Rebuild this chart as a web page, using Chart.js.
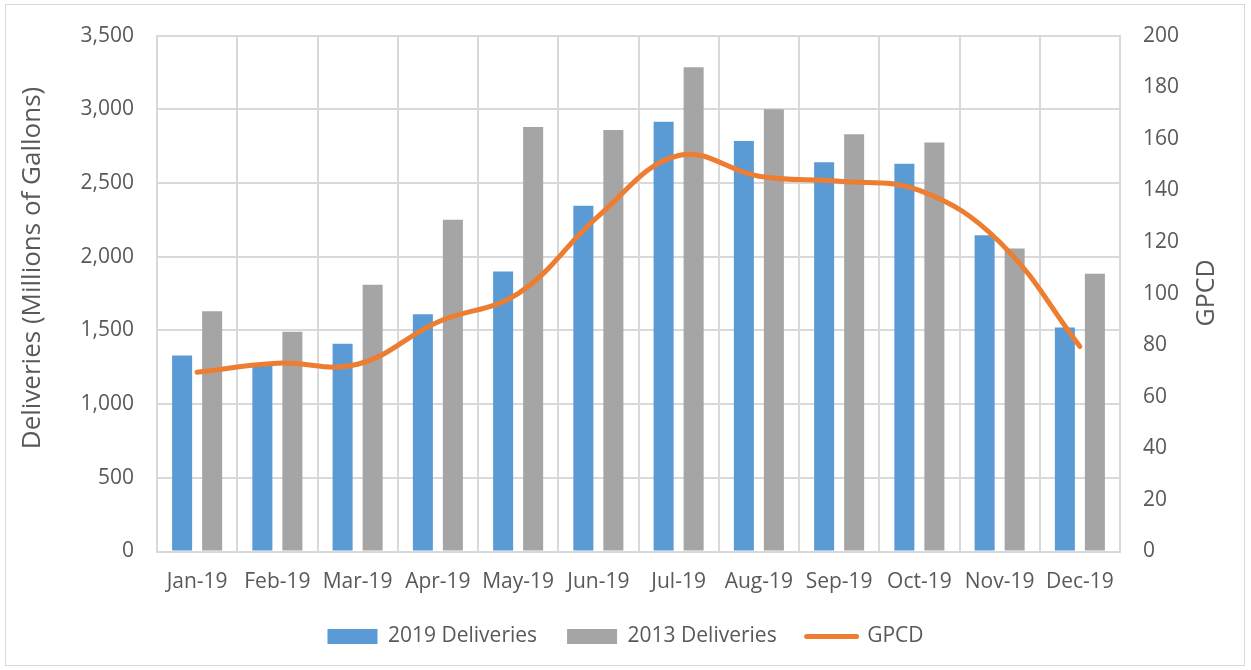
<!DOCTYPE html>
<html>
<head>
<meta charset="utf-8">
<script src="https://cdn.jsdelivr.net/npm/chart.js@4.4.1/dist/chart.umd.min.js"></script>
<style>
  html, body { margin: 0; padding: 0; background: #fff; }
  #wrap { position: relative; width: 1251px; height: 670px; }
  #frame { position: absolute; left: 5px; top: 4px; width: 1238px; height: 660px;
           border: 1px solid #D9D9D9; pointer-events: none; }
</style>
</head>
<body>
<div id="wrap">
  <canvas id="chart" width="1251" height="670"></canvas>
  <div id="frame"></div>
</div>
<script>
const months = ['Jan-19', 'Feb-19', 'Mar-19', 'Apr-19', 'May-19', 'Jun-19',
                'Jul-19', 'Aug-19', 'Sep-19', 'Oct-19', 'Nov-19', 'Dec-19'];
const deliveries2019 = [1330, 1270, 1410, 1610, 1900, 2345, 2915, 2785, 2640, 2630, 2145, 1520];
const deliveries2013 = [1630, 1490, 1810, 2250, 2880, 2860, 3285, 3000, 2830, 2775, 2055, 1885];
const gpcd = [69.5, 73, 72.6, 89, 100, 130, 153.5, 145.5, 143.5, 140, 120, 79.5];

const textColor = '#595959';
const gridColor = '#D9D9D9';
const font = { family: "'Open Sans', 'Noto Sans', sans-serif", size: 21 };

// axis titles drawn by hand so GPCD reads bottom-to-top like the original
const axisTitles = {
    id: 'axisTitles',
    afterDraw(chart) {
        const ctx = chart.ctx;
        ctx.save();
        ctx.fillStyle = textColor;
        ctx.font = "26px 'Open Sans', 'Noto Sans', sans-serif";
        ctx.textAlign = 'center';
        ctx.textBaseline = 'middle';
        ctx.translate(33, 268);
        ctx.rotate(-Math.PI / 2);
        ctx.fillText('Deliveries (Millions of Gallons)', 0, 0);
        ctx.restore();

        ctx.save();
        ctx.fillStyle = textColor;
        ctx.font = "25px 'Open Sans', 'Noto Sans', sans-serif";
        ctx.textAlign = 'center';
        ctx.textBaseline = 'middle';
        ctx.translate(1207, 293);
        ctx.rotate(-Math.PI / 2);
        ctx.fillText('GPCD', 0, 0);
        ctx.restore();
    }
};

new Chart(document.getElementById('chart'), {
    type: 'bar',
    data: {
        labels: months,
        datasets: [
            {
                type: 'line',
                label: 'GPCD',
                data: gpcd,
                yAxisID: 'y1',
                borderColor: '#ED7D31',
                backgroundColor: '#ED7D31',
                borderWidth: 5,
                borderCapStyle: 'round',
                pointRadius: 0,
                tension: 0.4,
                order: 0
            },
            {
                label: '2019 Deliveries',
                data: deliveries2019,
                backgroundColor: '#5B9BD5',
                yAxisID: 'y',
                order: 1
            },
            {
                label: '2013 Deliveries',
                data: deliveries2013,
                backgroundColor: '#A5A5A5',
                yAxisID: 'y',
                order: 1
            }
        ]
    },
    options: {
        responsive: false,
        animation: false,
        datasets: {
            bar: { categoryPercentage: 0.748, barPercentage: 0.667 }
        },
        layout: { padding: { top: 34, left: 0, right: 0, bottom: 13 } },
        plugins: {
            tooltip: { enabled: false },
            legend: {
                position: 'bottom',
                labels: {
                    color: textColor,
                    font: font,
                    padding: 30,
                    usePointStyle: true,
                    pointStyleWidth: 50,
                    boxHeight: 15,
                    generateLabels(chart) {
                        const order = [1, 2, 0];
                        return order.map(i => {
                            const ds = chart.data.datasets[i];
                            const isLine = ds.type === 'line';
                            return {
                                text: ds.label,
                                fillStyle: ds.backgroundColor,
                                strokeStyle: isLine ? ds.borderColor : ds.backgroundColor,
                                lineWidth: isLine ? 5 : 0,
                                lineCap: 'round',
                                pointStyle: isLine ? 'line' : 'rect',
                                fontColor: textColor,
                                hidden: false,
                                datasetIndex: i
                            };
                        });
                    }
                }
            }
        },
        scales: {
            x: {
                grid: { color: gridColor, lineWidth: 2, drawTicks: false },
                border: { color: gridColor, width: 2 },
                ticks: { color: textColor, font: font, padding: 18, maxRotation: 0 },
                afterFit(scale) { scale.height = 44.5; }
            },
            y: {
                position: 'left',
                min: 0,
                max: 3500,
                ticks: {
                    stepSize: 500,
                    color: textColor,
                    font: font,
                    padding: 23,
                    callback: v => v.toLocaleString('en-US')
                },
                grid: { color: gridColor, lineWidth: 2, drawTicks: false },
                border: { color: gridColor, width: 2 },
                afterFit(scale) { scale.width = 157; }
            },
            y1: {
                position: 'right',
                min: 0,
                max: 200,
                ticks: { stepSize: 20, color: textColor, font: font, padding: 23 },
                grid: { drawOnChartArea: false, drawTicks: false },
                border: { color: gridColor, width: 2 },
                afterFit(scale) { scale.width = 131; }
            }
        }
    },
    plugins: [axisTitles]
});
</script>
</body>
</html>
